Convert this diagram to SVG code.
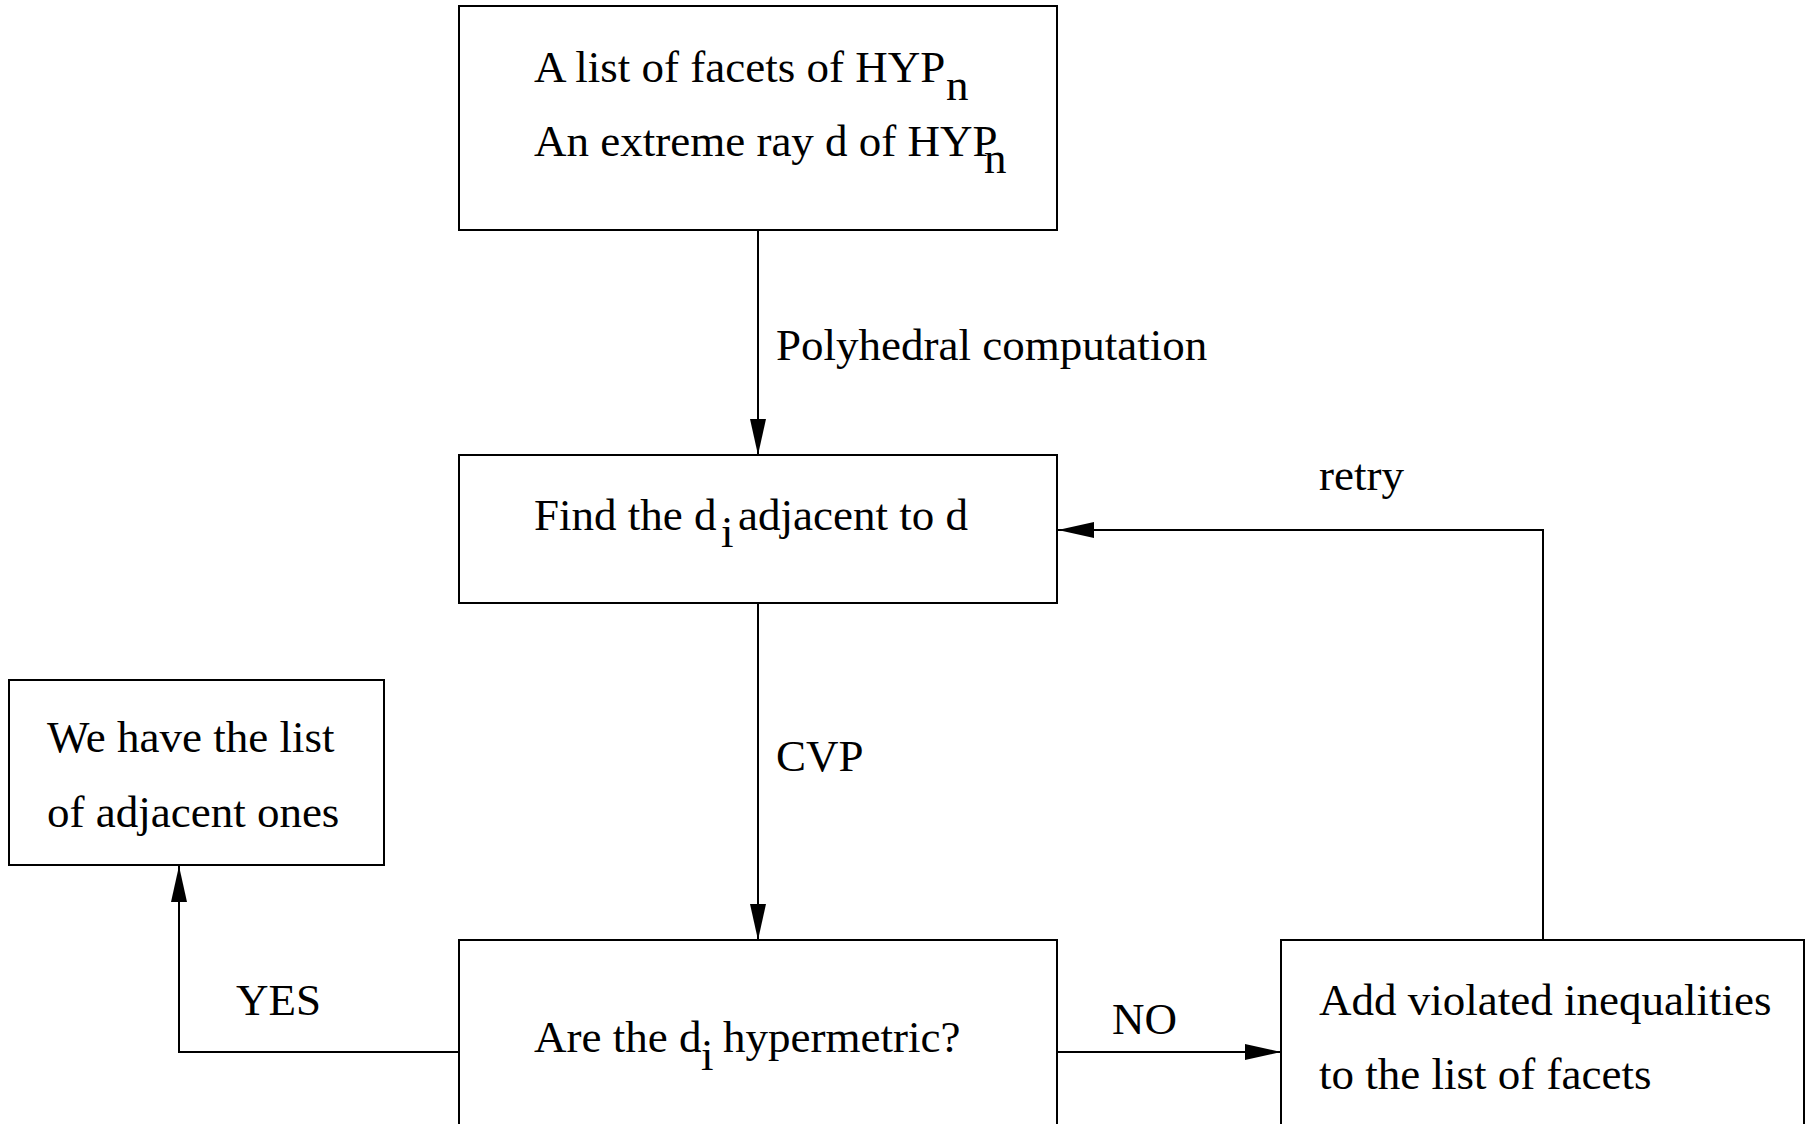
<svg xmlns="http://www.w3.org/2000/svg" width="1809" height="1124" viewBox="0 0 1809 1124">
  <style>
    .box { fill: #ffffff; stroke: #000000; stroke-width: 2; }
    .wire { fill: none; stroke: #000000; stroke-width: 2; }
    text { font-family: "Liberation Serif", "Times New Roman", serif; font-size: 45px; fill: #000000; }
  </style>
  <defs>
    <marker id="arrow" viewBox="0 0 36 16" refX="36" refY="8" markerWidth="36" markerHeight="16" markerUnits="userSpaceOnUse" orient="auto">
      <path d="M0,0 L36,8 L0,16 Z" fill="#000000"/>
    </marker>
  </defs>
  <rect width="1809" height="1124" fill="#ffffff"/>

  <g id="connectors">
    <path class="wire" d="M758,230 L758,455" marker-end="url(#arrow)"/>
    <path class="wire" d="M758,603 L758,940" marker-end="url(#arrow)"/>
    <path class="wire" d="M459,1052 L179,1052 L179,866" marker-end="url(#arrow)"/>
    <path class="wire" d="M1057,1052 L1281,1052" marker-end="url(#arrow)"/>
    <path class="wire" d="M1543,940 L1543,530 L1058,530" marker-end="url(#arrow)"/>
    <text x="776" y="360">Polyhedral computation</text>
    <text x="776" y="771">CVP</text>
    <text x="236" y="1015">YES</text>
    <text x="1112" y="1034">NO</text>
    <text x="1319" y="490">retry</text>
  </g>

  <g id="start">
    <rect class="box" x="459" y="6" width="598" height="224"/>
    <text x="534" y="82">A list of facets of HYP</text>
    <text x="946" y="100">n</text>
    <text x="534" y="156">An extreme ray d of HYP</text>
    <text x="984" y="173">n</text>
  </g>

  <g id="find">
    <rect class="box" x="459" y="455" width="598" height="148"/>
    <text x="534" y="530">Find the d</text>
    <text x="721" y="547">i</text>
    <text x="738" y="530">adjacent to d</text>
  </g>

  <g id="done">
    <rect class="box" x="9" y="680" width="375" height="185"/>
    <text x="47" y="752">We have the list</text>
    <text x="47" y="827">of adjacent ones</text>
  </g>

  <g id="check">
    <rect class="box" x="459" y="940" width="598" height="200"/>
    <text x="534" y="1052">Are the d</text>
    <text x="701" y="1070">i</text>
    <text x="723" y="1052">hypermetric?</text>
  </g>

  <g id="extend">
    <rect class="box" x="1281" y="940" width="523" height="200"/>
    <text x="1319" y="1015">Add violated inequalities</text>
    <text x="1319" y="1089">to the list of facets</text>
  </g>
</svg>
